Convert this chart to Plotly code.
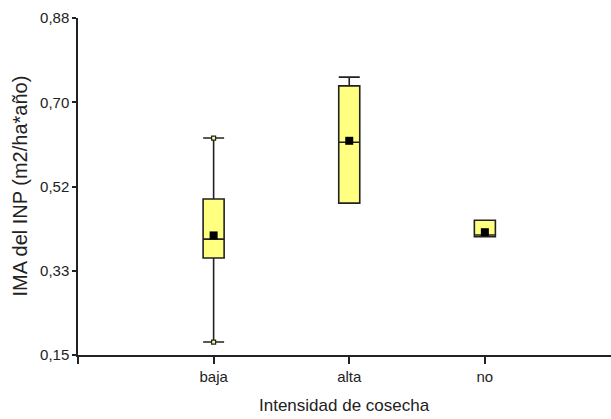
import plotly.graph_objects as go

categories = ["baja", "alta", "no"]
positions = [1, 2, 3]
q1 = [0.360, 0.479, 0.406]
median = [0.401, 0.611, 0.410]
q3 = [0.488, 0.733, 0.442]
lowerfence = [0.178, 0.479, 0.406]
upperfence = [0.620, 0.752, 0.442]
means = [0.409, 0.614, 0.416]

ytickvals = [0.15, 0.3325, 0.515, 0.6975, 0.88]
yticktext = ["0,15", "0,33", "0,52", "0,70", "0,88"]

fig = go.Figure()
for i, c in enumerate(categories):
    fig.add_trace(go.Box(
        x=[positions[i]], q1=[q1[i]], median=[median[i]], q3=[q3[i]],
        lowerfence=[lowerfence[i]], upperfence=[upperfence[i]],
        width=0.155, whiskerwidth=1,
        fillcolor="#FFFF80", line=dict(color="#222222", width=1.6),
        boxpoints=False, showlegend=False, hoverinfo="skip"))

# whisker end markers for baja
fig.add_trace(go.Scatter(
    x=[positions[0], positions[0]], y=[lowerfence[0], upperfence[0]], mode="markers",
    marker=dict(symbol="square", size=4, color="#FFFF80", line=dict(color="#222222", width=1.2)),
    showlegend=False, hoverinfo="skip"))

fig.add_trace(go.Scatter(
    x=positions, y=means, mode="markers",
    marker=dict(symbol="square", size=8, color="black", line=dict(width=0)),
    showlegend=False, hoverinfo="skip"))

font_family = "Liberation Sans, Arial, sans-serif"
fig.update_layout(
    width=611, height=419,
    margin=dict(l=78, r=0, t=18, b=64),
    plot_bgcolor="white", paper_bgcolor="white",
    font=dict(family=font_family, size=15, color="#222222"),
    xaxis=dict(range=[0, 3.93], tickvals=[0, 1, 2, 3], ticktext=["", "baja", "alta", "no"],
               showgrid=False, zeroline=False, showline=True, linecolor="#222222", linewidth=1.5,
               ticks="outside", ticklen=7, tickwidth=1.5, tickcolor="#222222",
               tickfont=dict(size=15)),
    yaxis=dict(range=[0.15, 0.88], tickvals=ytickvals, ticktext=yticktext,
               showgrid=False, zeroline=False, showline=True, linecolor="#222222", linewidth=1.5,
               ticks="outside", ticklen=4, tickwidth=1.5, tickcolor="#222222",
               tickfont=dict(size=15)),
    annotations=[
        dict(text="Intensidad de cosecha", xref="paper", yref="paper", x=0.5, y=0,
             yshift=-50, showarrow=False, font=dict(size=17), xanchor="center", yanchor="middle"),
        dict(text="IMA del INP (m2/ha*año)", xref="paper", yref="paper", x=0, y=0.5,
             xshift=-59, textangle=-90, showarrow=False, font=dict(size=20),
             xanchor="center", yanchor="middle"),
    ],
)

fig.write_html("out.html")
